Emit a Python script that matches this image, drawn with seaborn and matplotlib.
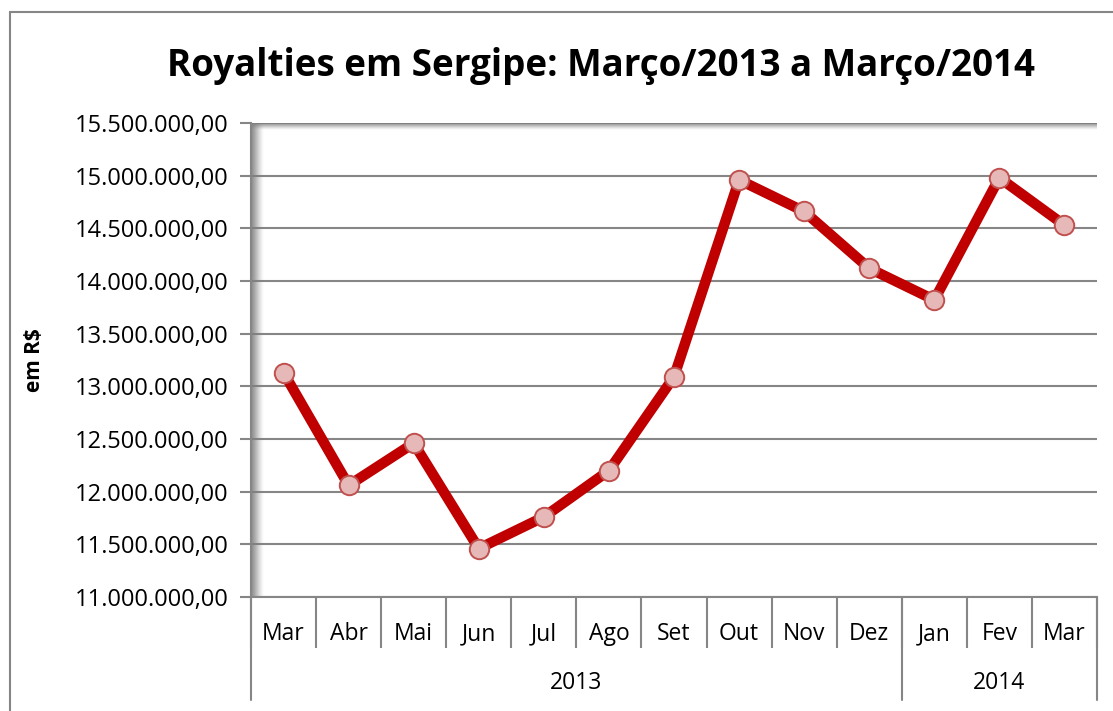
import matplotlib.pyplot as plt
import matplotlib.transforms as mtransforms
import numpy as np
import seaborn as sns
from matplotlib.lines import Line2D
from matplotlib.ticker import FuncFormatter, FixedLocator

# data (R$)
months = ["Mar", "Abr", "Mai", "Jun", "Jul", "Ago", "Set", "Out", "Nov", "Dez", "Jan", "Fev", "Mar"]
years = ["2013", "2014"]
months_per_year = [10, 3]
royalties = [13130000, 12060000, 12460000, 11460000, 11760000, 12200000, 13090000,
             14960000, 14660000, 14120000, 13820000, 14980000, 14530000]

sns.set_theme(style="white")
plt.rcParams["font.family"] = ["Open Sans", "DejaVu Sans"]
plt.rcParams["text.color"] = "black"
plt.rcParams["xtick.labelcolor"] = "black"
plt.rcParams["ytick.labelcolor"] = "black"
plt.rcParams["axes.labelcolor"] = "black"

GRAY = "#868686"

fig = plt.figure(figsize=(11.13, 7.11), dpi=100)
ax = fig.add_axes([251 / 1113, 1 - 597 / 711, (1097 - 251) / 1113, (597 - 123) / 711])

pos = np.arange(len(months))
sns.lineplot(x=pos, y=royalties, ax=ax, color="#C00000", linewidth=7.5,
             marker="o", markersize=14, markerfacecolor="#E6B9B8",
             markeredgecolor="#C0504D", markeredgewidth=1.4, zorder=5)

ax.set_xlim(-0.5, len(months) - 0.5)
ax.set_ylim(11000000, 15500000)
ax.set_yticks(np.arange(11000000, 15500001, 500000))


def br_fmt(v, _):
    s = f"{v:,.2f}"
    return s.replace(",", "X").replace(".", ",").replace("X", ".")


ax.yaxis.set_major_formatter(FuncFormatter(br_fmt))
ax.grid(axis="y", color=GRAY, linewidth=1.5)
ax.tick_params(axis="y", left=True, length=8, width=1.5, color=GRAY, labelsize=17, pad=8)

# months at the centre, separators between them
ax.set_xticks(pos)
ax.set_xticklabels(months)
ax.xaxis.set_minor_locator(FixedLocator(np.arange(-0.5, len(months), 1)))
ax.tick_params(axis="x", which="major", length=0, labelsize=16.5, pad=18)
ax.tick_params(axis="x", which="minor", bottom=True, length=37, width=1.5, color=GRAY)

for side in ["top", "right"]:
    ax.spines[side].set_visible(False)
for side in ["left", "bottom"]:
    ax.spines[side].set_color(GRAY)
    ax.spines[side].set_linewidth(1.5)

# shadow on the back wall (left and top)
for i in range(12):
    a = 0.8 * (1 - i / 12) ** 1.5
    ax.add_line(Line2D([0.001 + i * 0.0012] * 2, [0, 1], transform=ax.transAxes,
                       color="#7f7f7f", alpha=a, linewidth=1.1, zorder=1))
for i in range(7):
    a = 0.8 * (1 - i / 7) ** 1.5
    ax.add_line(Line2D([0, 1], [1 - i * 0.0021] * 2, transform=ax.transAxes,
                       color="#7f7f7f", alpha=a, linewidth=1.1, zorder=1))

# year level of the category axis
xt = mtransforms.blended_transform_factory(ax.transData, ax.transAxes)
bottom_y = -(700 - 597) / 474
start = -0.5
bounds = [start]
for yr, n in zip(years, months_per_year):
    end = start + n
    ax.text((start + end) / 2, -(683 - 597) / 474, yr, transform=xt,
            ha="center", va="center", fontsize=16.5)
    bounds.append(end)
    start = end
for b in bounds:
    ax.add_line(Line2D([b, b], [0, bottom_y], transform=xt, color=GRAY,
                       linewidth=1.5, clip_on=False))

ax.set_ylabel("em R$", fontsize=15, fontweight="bold")
ax.yaxis.set_label_coords(-(251 - 45) / 846, 0.5)

fig.text(0.540, 1 - 66 / 711, "Royalties em Sergipe: Março/2013 a Março/2014",
         ha="center", va="center", fontsize=26.5, fontweight="bold")

# chart frame
fig.add_artist(Line2D([10 / 1113, 10 / 1113], [0, 1 - 12 / 711], transform=fig.transFigure,
                      color=GRAY, linewidth=1.5))
fig.add_artist(Line2D([10 / 1113, 1], [1 - 12 / 711] * 2, transform=fig.transFigure,
                      color=GRAY, linewidth=1.5))

fig.savefig("out.png", dpi=100)
